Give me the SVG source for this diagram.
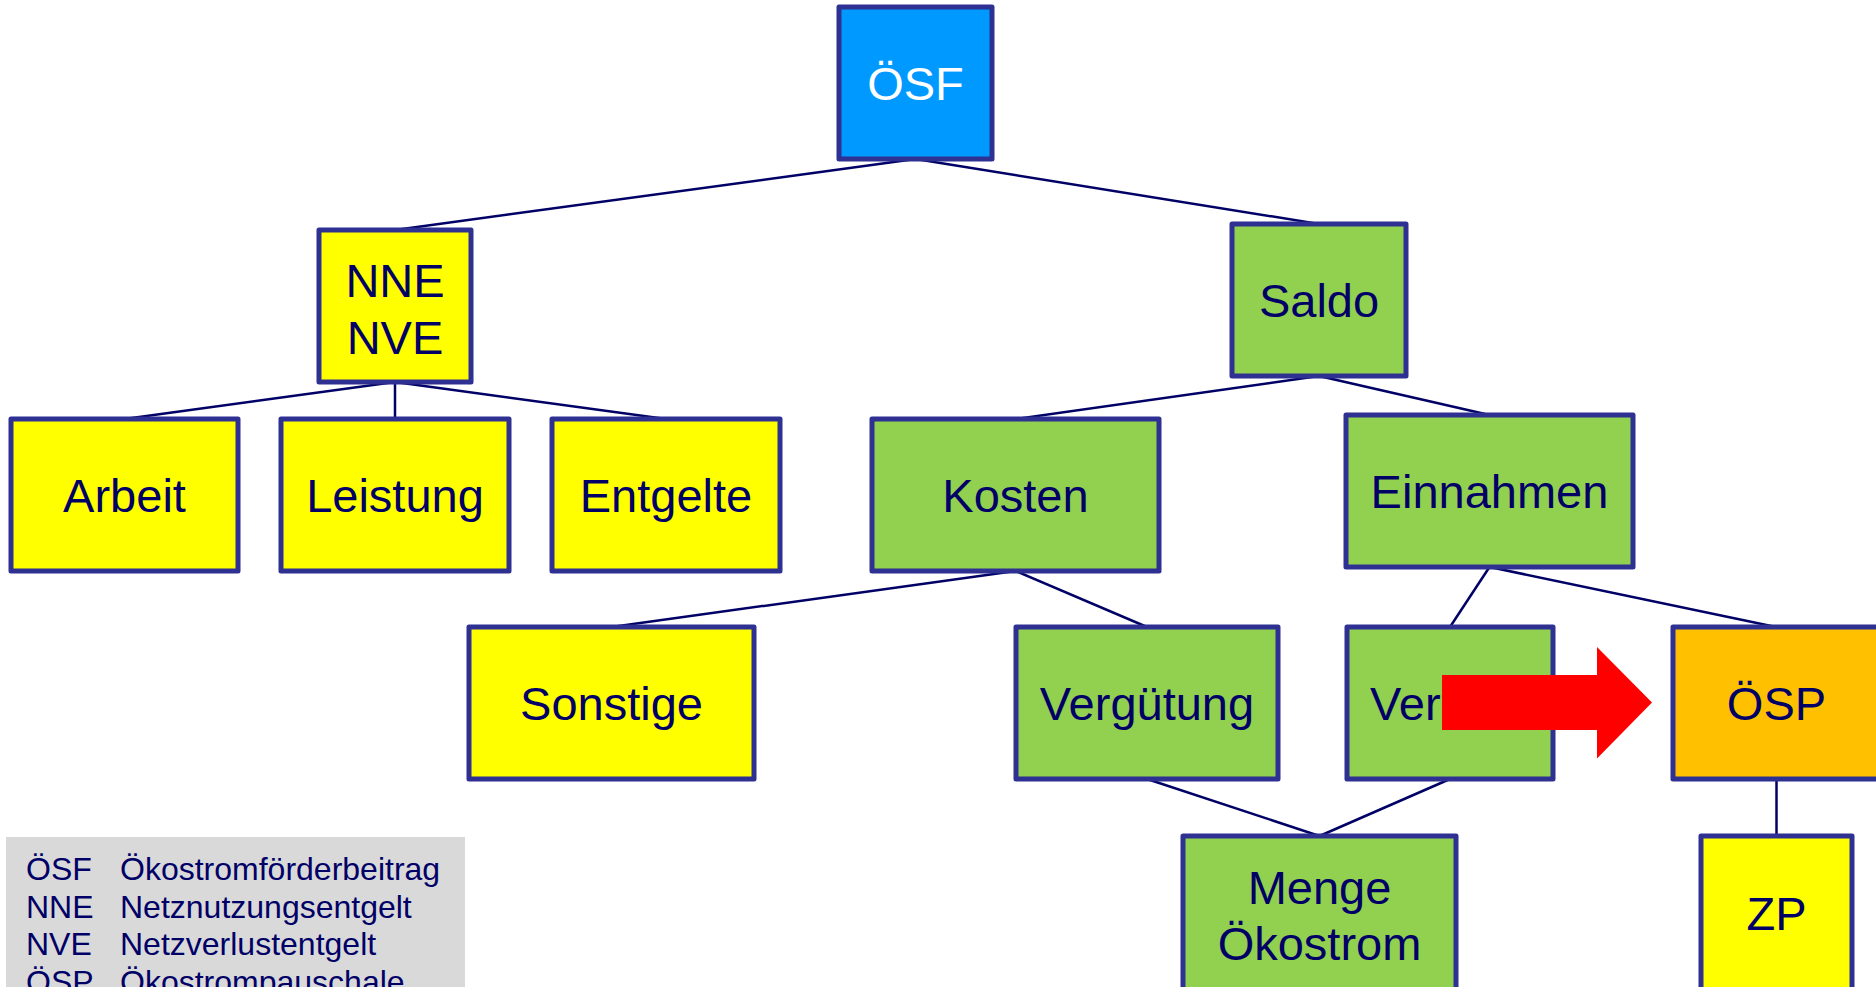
<svg xmlns="http://www.w3.org/2000/svg" width="1876" height="987" viewBox="0 0 1876 987">
<style>
.box{stroke:#2E3192;stroke-width:5;stroke-linejoin:round}
.y{fill:#FFFF00}.g{fill:#92D050}.b{fill:#0099FF}.o{fill:#FFC000}
.t{font-family:"Liberation Sans",Arial,sans-serif;font-size:47px;fill:#000066;text-anchor:middle}
.w{fill:#FFFFFF}
.lg{font-family:"Liberation Sans",Arial,sans-serif;font-size:32px;fill:#000066}
#connectors line{stroke:#000066;stroke-width:2.5}
</style>
<rect width="1876" height="987" fill="#FFFFFF"/>
<g id="connectors">
<line x1="915.5" y1="159" x2="395" y2="230"/>
<line x1="915.5" y1="159" x2="1319" y2="224"/>
<line x1="395" y1="382" x2="124.5" y2="419"/>
<line x1="395" y1="382" x2="395" y2="419"/>
<line x1="395" y1="382" x2="666" y2="419"/>
<line x1="1319" y1="376" x2="1015.5" y2="419"/>
<line x1="1319" y1="376" x2="1489.5" y2="415"/>
<line x1="1015.5" y1="571" x2="611.5" y2="627"/>
<line x1="1015.5" y1="571" x2="1147" y2="627"/>
<line x1="1489.5" y1="567" x2="1450" y2="627"/>
<line x1="1489.5" y1="567" x2="1776" y2="627"/>
<line x1="1147" y1="779" x2="1319.5" y2="836"/>
<line x1="1450" y1="779" x2="1319.5" y2="836"/>
<line x1="1776.5" y1="779" x2="1776.5" y2="836"/>
</g>
<g id="osf"><rect class="box b" x="839" y="7" width="153" height="152"/><text class="t w" x="915.5" y="100">ÖSF</text></g>
<g id="nne"><rect class="box y" x="319" y="230" width="152" height="152"/><text class="t" x="395" y="297">NNE</text><text class="t" x="395" y="354">NVE</text></g>
<g id="saldo"><rect class="box g" x="1232" y="224" width="174" height="152"/><text class="t" x="1319" y="317">Saldo</text></g>
<g id="arbeit"><rect class="box y" x="11" y="419" width="227" height="152"/><text class="t" x="124.5" y="512">Arbeit</text></g>
<g id="leistung"><rect class="box y" x="281" y="419" width="228" height="152"/><text class="t" x="395" y="512">Leistung</text></g>
<g id="entgelte"><rect class="box y" x="552" y="419" width="228" height="152"/><text class="t" x="666" y="512">Entgelte</text></g>
<g id="kosten"><rect class="box g" x="872" y="419" width="287" height="152"/><text class="t" x="1015.5" y="512">Kosten</text></g>
<g id="einnahmen"><rect class="box g" x="1346" y="415" width="287" height="152"/><text class="t" x="1489.5" y="508">Einnahmen</text></g>
<g id="sonstige"><rect class="box y" x="469" y="627" width="285" height="152"/><text class="t" x="611.5" y="720">Sonstige</text></g>
<g id="verguetung"><rect class="box g" x="1016" y="627" width="262" height="152"/><text class="t" x="1147" y="720">Vergütung</text></g>
<g id="ver"><rect class="box g" x="1347" y="627" width="206" height="152"/><text class="t" x="1370" y="720" style="text-anchor:start">Ver</text></g>
<g id="osp"><rect class="box o" x="1673" y="627" width="207" height="152"/><text class="t" x="1776.5" y="720">ÖSP</text></g>
<g id="menge"><rect class="box g" x="1183" y="836" width="273" height="170"/><text class="t" x="1319.5" y="904">Menge</text><text class="t" x="1319.5" y="960">Ökostrom</text></g>
<g id="zp"><rect class="box y" x="1701" y="836" width="151" height="170"/><text class="t" x="1776.5" y="930">ZP</text></g>
<g id="arrow"><polygon points="1442,675 1597,675 1597,647 1652,702.5 1597,758.5 1597,730 1442,730" fill="#FF0000"/></g>
<g id="legend">
<rect x="6" y="837" width="459" height="160" fill="#D9D9D9"/>
<text class="lg" x="26" y="880">ÖSF</text><text class="lg" x="120" y="880">Ökostromförderbeitrag</text>
<text class="lg" x="26" y="917.5">NNE</text><text class="lg" x="120" y="917.5">Netznutzungsentgelt</text>
<text class="lg" x="26" y="955">NVE</text><text class="lg" x="120" y="955">Netzverlustentgelt</text>
<text class="lg" x="26" y="993">ÖSP</text><text class="lg" x="120" y="993">Ökostrompauschale</text>
</g>
</svg>
